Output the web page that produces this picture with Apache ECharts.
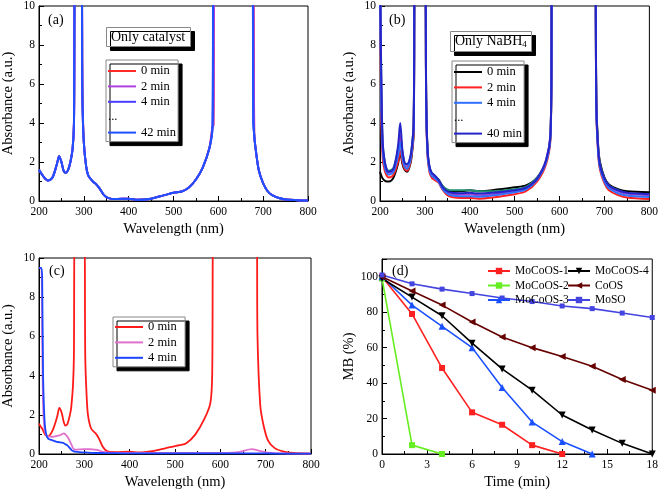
<!DOCTYPE html>
<html><head><meta charset="utf-8">
<script src="https://cdn.jsdelivr.net/npm/echarts@6/dist/echarts.min.js"></script>
<style>html,body{margin:0;padding:0;background:#fff}#c{width:661px;height:492px}</style>
</head><body><div id="c"></div>
<script>
// ---------- Panel (a): Only catalyst ----------
const wlA = [200,210,220,230,240,245,250,255,260,265,270,275,278,281,294,297,300,305,310,320,328,335,345,355,370,400,420,450,480,500,520,535,550,565,580,587,589,593,676,678,680,682,690,700,710,720,735,750,800];
const absA0 = [1.6,1.25,1.05,1.2,1.9,2.3,2.0,1.55,1.45,1.6,2.0,2.7,4,12,12,5.4,3,1.8,1.3,1.0,0.85,0.65,0.3,0.15,0.1,0.12,0.06,0.12,0.3,0.42,0.5,0.7,1.1,1.7,2.7,3.8,3.9,12,12,12,3.5,2.9,1.6,0.9,0.5,0.3,0.15,0.08,0.02];
const absA2 = [1.6,1.25,1.05,1.2,1.9,2.3,2.0,1.55,1.45,1.6,2.0,2.7,4,12,12,5.3,3,1.8,1.3,1.0,0.85,0.65,0.3,0.15,0.1,0.12,0.06,0.12,0.3,0.42,0.5,0.7,1.1,1.7,2.7,3.8,3.9,12,12,12,3.45,2.9,1.6,0.9,0.5,0.3,0.15,0.08,0.02];
const absA4 = [1.6,1.25,1.05,1.2,1.9,2.3,2.0,1.55,1.45,1.6,2.0,2.7,4,12,12,5,3,1.8,1.3,1.0,0.85,0.65,0.3,0.15,0.1,0.12,0.06,0.12,0.3,0.42,0.5,0.7,1.1,1.7,2.7,3.8,12,12,12,4,3.4,2.9,1.6,0.9,0.5,0.3,0.15,0.08,0.02];
const absA42 = [1.6,1.25,1.05,1.2,1.9,2.3,2.0,1.55,1.45,1.6,2.0,2.7,4,12,12,5,3,1.8,1.3,1.0,0.85,0.65,0.3,0.15,0.1,0.12,0.06,0.12,0.3,0.42,0.5,0.7,1.1,1.7,2.7,3.8,12,12,12,4,3.4,2.9,1.6,0.9,0.5,0.3,0.15,0.08,0.02];

// ---------- Panel (b): Only NaBH4 ----------
const wlB = [200,203,206,210,215,220,230,240,245,250,255,260,265,270,275,278,300,303,306,310,315,320,330,340,350,360,380,400,420,450,500,525,550,570,580,585,678,682,686,690,700,710,730,750,800];
const absB0 = [1.5,1.3,1.15,1.05,1.0,1.0,1.2,1.9,2.5,1.9,1.6,1.5,1.7,2.2,3.5,12,12,5,2.5,1.7,1.35,1.25,1.1,0.75,0.55,0.5,0.5,0.55,0.5,0.55,0.7,0.8,1.2,2.0,3.5,12,12,5,2.8,2.0,1.2,0.85,0.6,0.5,0.45];
const absB2 = [12,4,2.2,1.6,1.3,1.2,1.35,2.0,2.6,2.0,1.65,1.55,1.75,2.3,3.6,12,12,4.5,2.3,1.5,1.2,1.1,0.95,0.55,0.3,0.2,0.15,0.15,0.12,0.18,0.35,0.5,1.0,1.9,3.3,12,12,4.5,2.4,1.6,0.9,0.55,0.3,0.18,0.1];
const absBg = [12,6,3.0,2.1,1.65,1.55,1.7,2.6,3.2,2.5,1.95,1.85,2.0,2.6,4.0,12,12,5,2.6,1.8,1.45,1.35,1.1,0.75,0.6,0.55,0.55,0.55,0.5,0.5,0.6,0.72,1.2,2.1,3.5,12,12,4.8,2.7,1.9,1.15,0.8,0.55,0.4,0.32];
const absBp = [12,5.5,2.8,2.0,1.55,1.45,1.6,2.5,3.4,2.4,1.85,1.75,1.95,2.5,3.9,12,12,4.8,2.5,1.7,1.4,1.3,1.05,0.65,0.45,0.35,0.33,0.35,0.3,0.35,0.5,0.65,1.15,2.1,3.5,12,12,4.7,2.6,1.8,1.1,0.75,0.5,0.38,0.3];
const absB4 = [12,5,2.6,1.8,1.45,1.35,1.5,2.3,3.0,2.2,1.75,1.65,1.85,2.4,3.8,12,12,4.7,2.4,1.6,1.3,1.2,1.0,0.6,0.38,0.28,0.25,0.25,0.22,0.28,0.45,0.6,1.1,2.0,3.4,12,12,4.6,2.5,1.7,1.0,0.65,0.4,0.28,0.2];
const absB40 = [12,6,3.0,2.1,1.6,1.5,1.65,2.8,4.0,2.6,1.95,1.9,2.05,2.6,4.0,12,12,5,2.6,1.8,1.45,1.35,1.1,0.7,0.5,0.42,0.4,0.42,0.38,0.42,0.55,0.68,1.15,2.1,3.5,12,12,4.8,2.7,1.85,1.15,0.8,0.55,0.42,0.35];

// ---------- Panel (c) ----------
const wlC = [200,205,207,209,212,215,220,230,240,245,250,255,258,262,265,270,272,275,277,279,300,302,305,308,315,325,332,340,350,370,400,420,450,480,510,525,545,565,578,582,585,640,670,680,682,688,695,705,720,740,760,800];
const absC0 = [1.55,1.35,1.3,1.2,1.05,0.95,0.9,1.2,1.9,2.35,2.1,1.6,1.45,1.5,1.7,2.2,2.6,3.5,5,12,12,5,3,2,1.3,1.05,0.8,0.4,0.15,0.1,0.12,0.08,0.15,0.3,0.45,0.55,1.0,1.8,2.6,4,12,12,12,12,6,2.5,1.5,0.7,0.3,0.12,0.05,0.02];
const absC2 = [9.5,9.5,6,2.5,1.3,1.0,0.9,0.88,0.92,0.95,1.0,1.05,1.0,0.9,0.8,0.55,0.45,0.3,0.25,0.22,0.25,0.25,0.25,0.25,0.24,0.22,0.18,0.12,0.08,0.06,0.05,0.05,0.05,0.05,0.05,0.05,0.05,0.05,0.05,0.05,0.05,0.1,0.25,0.2,0.19,0.15,0.12,0.07,0.04,0.03,0.02,0.02];
const absC4 = [9.5,9.5,9.0,4,1.8,1.1,0.78,0.7,0.62,0.6,0.58,0.55,0.5,0.45,0.38,0.25,0.2,0.15,0.13,0.12,0.08,0.08,0.08,0.07,0.06,0.05,0.05,0.05,0.04,0.04,0.03,0.03,0.03,0.03,0.03,0.03,0.03,0.03,0.03,0.03,0.03,0.03,0.03,0.03,0.03,0.03,0.03,0.03,0.02,0.02,0.02,0.02];

// ---------- Panel (d) ----------
const timeD = [0,2,4,6,8,10,12,14,16,18];
const mocoos1 = [100,79,48.5,23.5,16.5,5,0];
const mocoos2 = [99,5,0];
const mocoos3 = [100,84,72,60,37.5,18,7,0];
const mocoos4 = [99,88.5,78,62.5,48,36,22,13.5,6,0];
const coos = [100,92,84,74.5,66,60,55,49.5,42,36];
const moso = [101,96,93,90.5,88,86,83.5,82,79.5,77];

const pair = (xs, ys) => ys.map((y, i) => [xs[i], y]);
const FONT = 'Liberation Serif';

const grids = [
  {left: 39, top: 6, width: 269, height: 195},
  {left: 380, top: 6, width: 270, height: 195},
  {left: 39, top: 258, width: 272, height: 196},
  {left: 382, top: 259, width: 271, height: 195}
].map(g => Object.assign({show: true, borderColor: '#000', borderWidth: 1, backgroundColor: 'transparent'}, g));

function xAx(i, opt) {
  return Object.assign({
    gridIndex: i, type: 'value', min: 200, max: 800, interval: 100,
    name: 'Wavelength (nm)', nameLocation: 'middle', nameGap: 21,
    nameTextStyle: {fontFamily: FONT, fontSize: 14.5, color: '#000'},
    axisLine: {lineStyle: {color: '#000', width: 1}},
    axisTick: {inside: true, length: 5, lineStyle: {color: '#000'}},
    minorTick: {show: true, splitNumber: 2, length: 3, lineStyle: {color: '#000'}},
    axisLabel: {fontFamily: FONT, fontSize: 11.5, color: '#000', margin: 5},
    splitLine: {show: false}
  }, opt || {});
}
function yAx(i, opt) {
  return Object.assign({
    gridIndex: i, type: 'value', min: 0, max: 10, interval: 2,
    name: 'Absorbance (a.u.)', nameLocation: 'middle', nameGap: 23,
    nameTextStyle: {fontFamily: FONT, fontSize: 14.5, color: '#000'},
    axisLine: {lineStyle: {color: '#000', width: 1}},
    axisTick: {inside: true, length: 5, lineStyle: {color: '#000'}},
    minorTick: {show: true, splitNumber: 2, length: 3, lineStyle: {color: '#000'}},
    axisLabel: {fontFamily: FONT, fontSize: 11.5, color: '#000', margin: 4},
    splitLine: {show: false}
  }, opt || {});
}

function spec(name, xs, ys, color, idx, w) {
  return {name, type: 'line', xAxisIndex: idx, yAxisIndex: idx, data: pair(xs, ys),
    showSymbol: false, symbol: 'none', smooth: 0.3, clip: true,
    lineStyle: {color, width: w || 2}, itemStyle: {color}, z: 2};
}
function kin(name, ys, color, symbol, rot, size) {
  return {name, type: 'line', xAxisIndex: 3, yAxisIndex: 3, data: pair(timeD, ys),
    symbol, symbolSize: size || 7, symbolRotate: rot || 0,
    lineStyle: {color, width: 1.6}, itemStyle: {color}, z: 3};
}

const boxLegend = (left, top, names, padding) => ({
  left, top, orient: 'vertical', data: names,
  icon: 'rect', itemWidth: 28, itemHeight: 2, itemGap: 1.4,
  textStyle: {fontFamily: FONT, fontSize: 12.5, color: '#000', lineHeight: 14},
  backgroundColor: '#fff', borderColor: '#888', borderWidth: 1,
  padding: padding || [4, 2, 2, 2],
  shadowColor: '#000', shadowBlur: 0.1, shadowOffsetX: 4, shadowOffsetY: 4,
  selectedMode: false
});

const dotItem = (n) => ({name: n, icon: 'none', textStyle: {padding: [0, 0, 0, -33]}});

const option = {
  animation: false,
  backgroundColor: '#fff',
  textStyle: {fontFamily: FONT},
  grid: grids,
  xAxis: [
    xAx(0), xAx(1), xAx(2),
    xAx(3, {min: 0, max: 18, interval: 3, name: 'Time (min)'})
  ],
  yAxis: [
    yAx(0), yAx(1), yAx(2),
    yAx(3, {min: 0, max: 110, interval: 20, name: 'MB (%)', nameGap: 25,
      axisLabel: {fontFamily: FONT, fontSize: 11.5, color: '#000', margin: 4,
        formatter: v => v > 100 ? '' : String(v)}})
  ],
  title: [
    {text: 'Only catalyst', left: 106, top: 27, padding: [3, 5, 3, 5],
      textStyle: {fontFamily: FONT, fontSize: 14, fontWeight: 'normal', color: '#000'},
      backgroundColor: '#fff', borderColor: '#888', borderWidth: 1,
      shadowColor: '#000', shadowBlur: 0.1, shadowOffsetX: 4, shadowOffsetY: 4},
    {text: '{a|Only NaBH}{s|4}', left: 450, top: 31, padding: [3, 5, 3, 5],
      textStyle: {fontFamily: FONT, fontSize: 14, fontWeight: 'normal', color: '#000',
        rich: {a: {fontFamily: FONT, fontSize: 14, color: '#000'},
               s: {fontFamily: FONT, fontSize: 9, color: '#000', verticalAlign: 'bottom', padding: [6, 0, 0, 0]}}},
      backgroundColor: '#fff', borderColor: '#888', borderWidth: 1,
      shadowColor: '#000', shadowBlur: 0.1, shadowOffsetX: 4, shadowOffsetY: 4},
    {text: '(a)', left: 48, top: 13, padding: 0, textStyle: {fontFamily: FONT, fontSize: 14, fontWeight: 'normal', color: '#000'}},
    {text: '(b)', left: 389, top: 13, padding: 0, textStyle: {fontFamily: FONT, fontSize: 14, fontWeight: 'normal', color: '#000'}},
    {text: '(c)', left: 49, top: 264, padding: 0, textStyle: {fontFamily: FONT, fontSize: 14, fontWeight: 'normal', color: '#000'}},
    {text: '(d)', left: 392, top: 264, padding: 0, textStyle: {fontFamily: FONT, fontSize: 14, fontWeight: 'normal', color: '#000'}}
  ],
  legend: [
    boxLegend(106, 60, ['0 min', '2 min', '4 min', dotItem('...'), '42 min']),
    boxLegend(452, 61, ['0 min ', '2 min ', '4 min ', dotItem('... '), '40 min']),
    boxLegend(113, 317, ['0 min  ', '2 min  ', '4 min  '], [3, 2, 2, 2]),
    {left: 487, top: 264, orient: 'vertical', data: ['MoCoOS-1', 'MoCoOS-2', 'MoCoOS-3'],
      itemWidth: 22, itemHeight: 8, itemGap: 0.5, padding: 0, selectedMode: false,
      textStyle: {fontFamily: FONT, fontSize: 11.5, color: '#000', lineHeight: 14}},
    {left: 567, top: 264, orient: 'vertical', data: ['MoCoOS-4', 'CoOS', 'MoSO'],
      itemWidth: 22, itemHeight: 8, itemGap: 0.5, padding: 0, selectedMode: false,
      textStyle: {fontFamily: FONT, fontSize: 11.5, color: '#000', lineHeight: 14}}
  ],
  series: [
    spec('0 min', wlA, absA0, '#ff2a2a', 0),
    spec('2 min', wlA, absA2, '#b040e0', 0),
    spec('4 min', wlA, absA4, '#4a3cff', 0),
    {name: '...', type: 'line', xAxisIndex: 0, yAxisIndex: 0, data: [], symbol: 'none', lineStyle: {width: 0}},
    spec('42 min', wlA, absA42, '#2050ff', 0),

    spec('0 min ', wlB, absB0, '#000000', 1),
    spec('2 min ', wlB, absB2, '#ff2020', 1),
    spec('green', wlB, absBg, '#209070', 1),
    spec('purple', wlB, absBp, '#b040d0', 1),
    spec('4 min ', wlB, absB4, '#3070ff', 1),
    {name: '... ', type: 'line', xAxisIndex: 1, yAxisIndex: 1, data: [], symbol: 'none', lineStyle: {width: 0}},
    spec('40 min', wlB, absB40, '#2424c8', 1),

    spec('0 min  ', wlC, absC0, '#ff1a1a', 2, 1.8),
    spec('2 min  ', wlC, absC2, '#e070cc', 2, 1.8),
    spec('4 min  ', wlC, absC4, '#1a44ff', 2, 1.8),

    kin('MoCoOS-1', mocoos1, '#ff2020', 'rect', 0, 6),
    kin('MoCoOS-2', mocoos2, '#66ee22', 'rect', 0, 6),
    kin('MoCoOS-3', mocoos3, '#1a50ff', 'triangle', 0, 7),
    kin('MoCoOS-4', mocoos4, '#000000', 'triangle', 180, 7),
    kin('CoOS', coos, '#660000', 'triangle', 90, 7),
    kin('MoSO', moso, '#4444e0', 'rect', 0, 5)
  ]
};

const chart = echarts.init(document.getElementById('c'), null, {renderer: 'canvas'});
chart.setOption(option);
</script>
</body></html>
